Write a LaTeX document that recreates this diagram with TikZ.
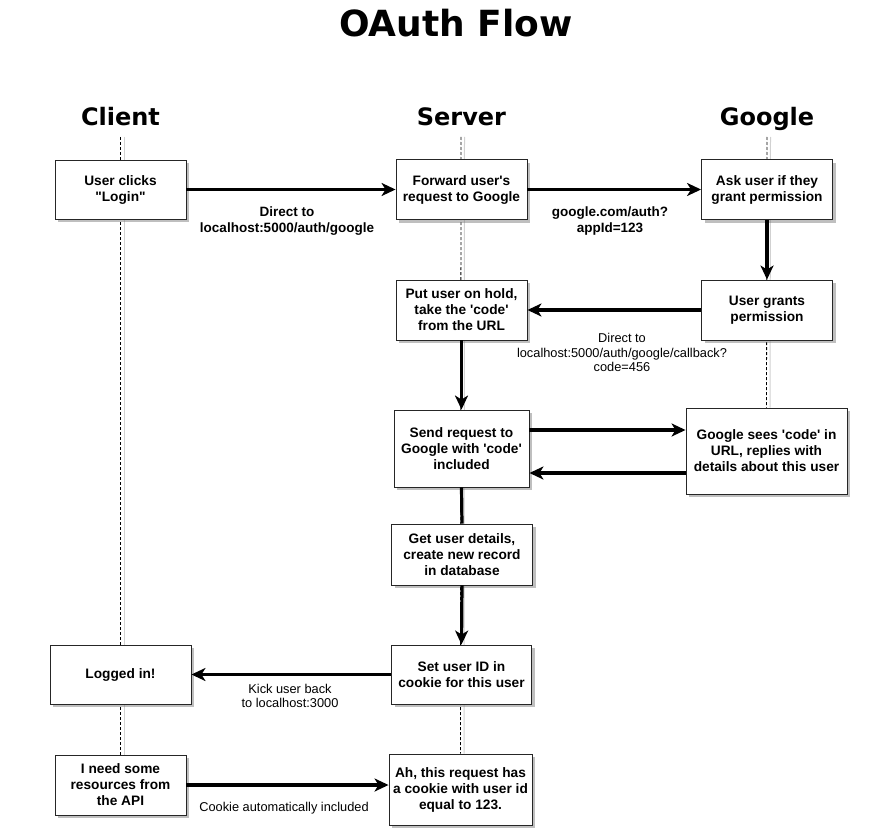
\documentclass[tikz,border=0pt]{standalone}
\usepackage{fontspec}
\newfontfamily\libsans{Liberation Sans}
\newfontfamily\dejavu{DejaVu Sans}
\setmainfont{Liberation Sans}
\usetikzlibrary{arrows.meta,shadows,backgrounds}
\begin{document}
\begin{tikzpicture}[x=1pt,y=-1pt,
  box/.style={draw=black!85, line width=0.9pt, fill=white, align=center, inner sep=2pt,
    font=\libsans\fontsize{13.7}{16}\selectfont\bfseries,
    drop shadow={shadow xshift=3pt,shadow yshift=-3pt,fill=black!55,opacity=0.45}},
  flow/.style={line width=3.2pt, -{Stealth[length=14pt,width=13pt,inset=4pt]}},
  plainflow/.style={line width=3.2pt},
  lblb/.style={align=center, font=\libsans\fontsize{13.5}{16}\selectfont\bfseries, inner sep=0pt},
  lbl/.style={align=center, font=\libsans\fontsize{12.8}{14.5}\selectfont, inner sep=0pt},
  head/.style={anchor=base, font=\dejavu\bfseries\fontsize{24}{28}\selectfont, inner sep=0pt},
  ttl/.style={anchor=base, font=\dejavu\bfseries\fontsize{36}{40}\selectfont, inner sep=0pt},
  life/.style={dash pattern=on 3pt off 2pt, line width=0.8pt, black},
  lifesh/.style={line width=1pt, black!18}
]
\useasboundingbox (0,0) rectangle (894,832);

\node[ttl] (title) at (456,37) {OAuth Flow};
\node[head] (hclient) at (120.5,126) {Client};
\node[head] (hserver) at (461.5,126) {Server};
\node[head] (hgoogle) at (767,126) {Google};

\coordinate (lc) at (120.5,137);
\coordinate (ls) at (461,137);
\coordinate (lg) at (767,137);

% boxes
\node[box, minimum width=131pt, minimum height=59pt] (b1) at (120.5,189.5) {User clicks\\"Login"};
\node[box, minimum width=131pt, minimum height=60pt] (b2) at (461.5,189.5) {Forward user's\\request to Google};
\node[box, minimum width=131pt, minimum height=60pt] (b3) at (767,189.5) {Ask user if they\\grant permission};
\node[box, minimum width=131pt, minimum height=60pt] (b4) at (767,310) {User grants\\permission};
\node[box, minimum width=131pt, minimum height=60pt] (b5) at (461.5,310) {Put user on hold,\\take the 'code'\\from the URL};
\node[box, minimum width=135pt, minimum height=77pt] (b6) at (461.5,448.5) {Send request to\\Google with 'code'\\included};
\node[box, minimum width=161pt, minimum height=86pt] (b7) at (766.5,451) {Google sees 'code' in\\URL, replies with\\details about this user};
\node[box, minimum width=141pt, minimum height=61pt] (b8) at (462,554.5) {Get user details,\\create new record\\in database};
\node[box, minimum width=140pt, minimum height=59pt] (b9) at (461.5,674.5) {Set user ID in\\cookie for this user};
\node[box, minimum width=141pt, minimum height=59pt] (b10) at (120.5,674.5) {Logged in!};
\node[box, minimum width=131pt, minimum height=60pt] (b11) at (120.5,785) {I need some\\resources from\\the API};
\node[box, minimum width=143pt, minimum height=71pt] (b12) at (460.5,789.5) {Ah, this request has\\a cookie with user id\\equal to 123.};

% lifelines
\begin{pgfonlayer}{background}
  \fill[white] (0,0) rectangle (894,832);
  \draw[lifesh] ([xshift=3.5pt]lc) -- ([xshift=3.5pt]b11.north);
  \draw[lifesh] ([xshift=3.5pt]ls) -- ([xshift=3.5pt]b12.north);
  \draw[lifesh] ([xshift=3.5pt]lg) -- ([xshift=3.5pt]b7.north);
  \draw[life] (lc) -- (b11.north);
  \draw[life] (ls) -- (b12.north);
  \draw[life] (lg) -- (b7.north);
\end{pgfonlayer}

% connectors
\draw[flow] (b1.east) -- (b2.west);
\draw[flow] (b2.east) -- (b3.west);
\draw[flow] (b3.south) -- (b4.north);
\draw[flow] (b4.west) -- (b5.east);
\draw[flow] (b5.south) -- (b6.north);
\draw[flow] ([yshift=18.5pt]b6.east) -- ([yshift=21pt]b7.west);
\draw[flow] ([yshift=-22pt]b7.west) -- ([yshift=-24.5pt]b6.east);
\draw[plainflow] (b6.south) -- (b8.north);
\draw[flow] (b8.south) -- (b9.north);
\draw[flow] (b9.west) -- (b10.east);
\draw[flow] (b11.east) -- (b11.east -| b12.west);

% labels
\node[lblb] (l1) at (287,221) {Direct to\\localhost:5000/auth/google};
\node[lblb] (l2) at (610,221) {google.com/auth?\\appId=123};
\node[lbl] (l4) at (622,352.5) {Direct to\\localhost:5000/auth/google/callback?\\code=456};
\node[lbl] (l10) at (290,696) {Kick user back\\to localhost:3000};
\node[lbl] (l11) at (284,808) {Cookie automatically included};
\end{tikzpicture}
\end{document}
